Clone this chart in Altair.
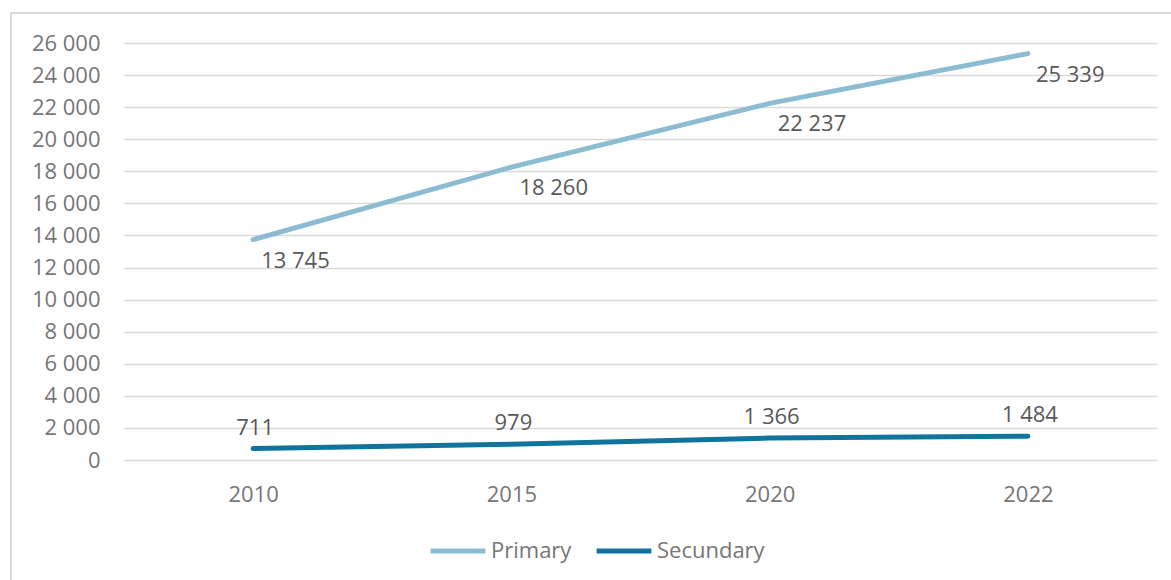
import altair as alt
import pandas as pd

years = ["2010", "2015", "2020", "2022"]
primary = [13745, 18260, 22237, 25339]
secundary = [711, 979, 1366, 1484]
series_names = ["Primary", "Secundary"]
colors = ["#8bbcd2", "#10739c"]
y_ticks = list(range(0, 26001, 2000))

rows = []
for y, p, s in zip(years, primary, secundary):
    rows.append({"year": y, "series": "Primary", "value": p})
    rows.append({"year": y, "series": "Secundary", "value": s})
df = pd.DataFrame(rows)

FONT = "Open Sans"
FS = 22
W, H = 1033, 417

base = alt.Chart(df).transform_calculate(
    label="replace(format(datum.value, ','), ',', ' ')"
)

x_enc = alt.X("year:N", sort=years, title=None,
              scale=alt.Scale(paddingInner=0, paddingOuter=0, align=0.5),
              axis=alt.Axis(labelAngle=0, domain=False, ticks=False, labelPadding=24,
                            labelFontSize=FS, labelColor="#767676", labelFont=FONT,
                            grid=False))
y_enc = alt.Y("value:Q", title=None,
              scale=alt.Scale(domain=[0, 26000], nice=False),
              axis=alt.Axis(values=y_ticks, domain=False, ticks=False, labelPadding=24,
                            labelFontSize=FS, labelColor="#767676", labelFont=FONT,
                            labelOverlap=False, labelBound=False, labelFlush=False,
                            gridColor="#d9d9d9", gridWidth=1.5,
                            labelExpr="replace(format(datum.value, ','), ',', ' ')"))
color_enc = alt.Color("series:N", scale=alt.Scale(domain=series_names, range=colors),
                      legend=alt.Legend(title=None, orient="none", direction="horizontal",
                                        legendX=304, legendY=478,
                                        symbolType="stroke", symbolStrokeWidth=5,
                                        symbolSize=3000, labelFontSize=FS, labelFont=FONT,
                                        labelColor="#767676", columnPadding=14,
                                        labelOffset=3))

lines = base.mark_line(strokeWidth=5, strokeCap="round").encode(
    x=x_enc, y=y_enc, color=color_enc, detail="series:N")

prim_labels = base.transform_filter("datum.series == 'Primary'").mark_text(
    align="left", baseline="middle", dx=8, dy=21, fontSize=FS, font=FONT, color="#595959"
).encode(x=x_enc, y=y_enc, text="label:N")

sec_labels = base.transform_filter("datum.series == 'Secundary'").mark_text(
    align="center", baseline="middle", dx=2, dy=-21, fontSize=FS, font=FONT, color="#595959"
).encode(x=x_enc, y=y_enc, text="label:N")

frame = alt.Chart(pd.DataFrame({"a": [0]})).mark_rect(
    fill=None, stroke="#d9d9d9", strokeWidth=2, clip=False
).encode(x=alt.value(-113), x2=alt.value(1100), y=alt.value(-30), y2=alt.value(600))

chart = alt.layer(lines, prim_labels, sec_labels, frame).properties(
    width=W, height=H,
    background="white",
    autosize=alt.AutoSizeParams(type="none"),
    padding={"left": 124, "top": 43, "right": 14, "bottom": 120},
).configure_view(stroke=None)

chart.save("out.html", embed_options={"renderer": "svg", "actions": False})
